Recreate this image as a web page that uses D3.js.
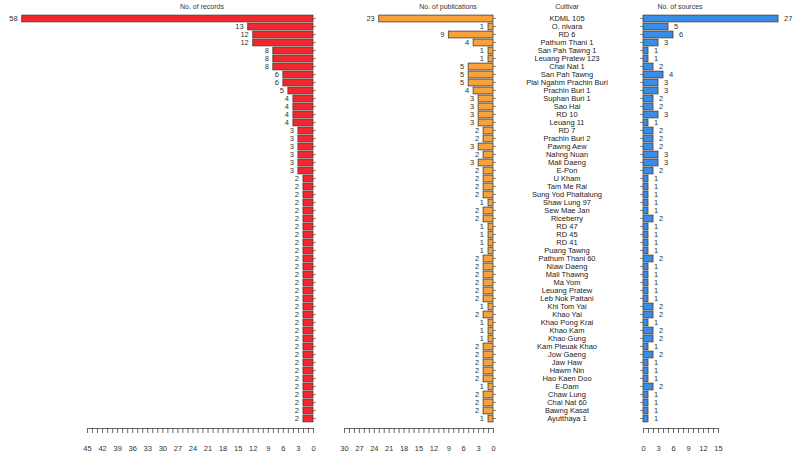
<!DOCTYPE html>
<html><head><meta charset="utf-8">
<script src="https://cdn.jsdelivr.net/npm/d3@7"></script>
<style>body{margin:0;background:#fff}svg{display:block}text{font-family:"Liberation Sans",Arial,sans-serif}</style>
</head><body><svg id="c" width="800" height="459"></svg>
<script>
const cultivars = ["KDML 105","O. nivara","RD 6","Pathum Thani 1","San Pah Tawng 1","Leuang Pratew 123","Chai Nat 1","San Pah Tawng","Plai Ngahm Prachin Buri","Prachin Buri 1","Suphan Buri  1","Sao Hai","RD 10","Leuang 11","RD 7","Prachin Buri 2","Pawng Aew","Nahng Nuan","Mali Daeng","E-Pon","U Kham","Tam Me Rai","Sung Yod Phattalung","Shaw Lung 97","Sew Mae Jan","Riceberry","RD 47","RD 45","RD 41","Puang Tawng","Pathum Thani 60","Niaw Daeng","Mali Thawng","Ma Yom","Leuang Pratew","Leb Nok Pattani","Khi Tom Yai","Khao Yai","Khao Pong Krai","Khao Kam","Khao Gung","Kam Pleuak Khao","Jow Gaeng","Jaw Haw","Hawm Nin","Hao Kaen Doo","E-Dam","Chaw Lung","Chai Nat 60","Bawng Kasat","Ayutthaya 1"];
const records = [58,13,12,12,8,8,8,6,6,5,4,4,4,4,3,3,3,3,3,3,2,2,2,2,2,2,2,2,2,2,2,2,2,2,2,2,2,2,2,2,2,2,2,2,2,2,2,2,2,2,2];
const publications = [23,1,9,4,1,1,5,5,5,4,3,3,3,3,2,2,3,2,3,2,2,2,2,1,2,2,1,1,1,1,2,2,2,2,2,2,1,2,1,1,1,2,2,2,2,2,1,2,2,2,1];
const sources = [27,5,6,3,1,1,2,4,3,3,2,2,3,1,2,2,2,3,3,2,1,1,1,1,1,2,1,1,1,1,2,1,1,1,1,1,2,2,1,2,2,1,2,1,1,1,2,1,1,1,1];
const recordTicks = d3.range(0,46,3);
const pubTicks = d3.range(0,31,3);
const sourceTicks = d3.range(0,16,3);

const svg = d3.select("#c");
const y = d3.scaleBand().domain(cultivars).range([14.5, 422.5]).paddingInner(0.15).paddingOuter(0.075);
const fs = "7.5px";
const axisY = 428;

function panel(vals, x, maxV, tickVals, side, fill, title, titleX) {
  const g = svg.append("g");
  g.selectAll("rect").data(vals).join("rect")
    .attr("x", d => side === "left" ? x(d) : x(0))
    .attr("width", d => Math.abs(x(d) - x(0)))
    .attr("y", (d,i) => y(cultivars[i]))
    .attr("height", y.bandwidth())
    .attr("fill", fill).attr("stroke", "#4a3a30").attr("stroke-width", 0.8);
  g.selectAll("text.v").data(vals).join("text").attr("class","v")
    .attr("x", d => side === "left" ? x(d) - 4 : x(d) + 6)
    .attr("y", (d,i) => y(cultivars[i]) + y.bandwidth()/2)
    .attr("dy", "0.35em")
    .attr("text-anchor", side === "left" ? "end" : "start")
    .attr("font-size", fs).attr("fill", "#333").text(d => d);
  const yAx = side === "left" ? d3.axisRight(y) : d3.axisLeft(y);
  const ya = svg.append("g").attr("transform", `translate(${x(0)},0)`)
    .call(yAx.tickSize(3).tickFormat(""));
  ya.select(".domain").remove();
  ya.selectAll("line").attr("stroke", "#555").attr("stroke-width", 0.7);
  const xa = svg.append("g").attr("transform", `translate(0,${axisY})`)
    .call(d3.axisBottom(x).tickValues(d3.range(0, maxV+1)).tickSize(5).tickSizeOuter(0)
      .tickFormat(d => tickVals.includes(d) ? d : ""));
  xa.select(".domain").attr("stroke", "#444").attr("stroke-width", 0.8);
  xa.selectAll("line").attr("stroke", "#444").attr("stroke-width", 0.8);
  xa.selectAll("text").attr("font-size", fs).attr("fill", "#333").attr("y", 20).attr("dy", "0.35em")
    .attr("font-family", '"Liberation Sans",Arial,sans-serif');
  svg.append("text").attr("x", titleX).attr("y", 9).attr("text-anchor","middle")
    .attr("font-size", "7px").attr("fill", "#333").text(title);
}

const xRec = d3.scaleLinear().domain([0,45]).range([313, 87]);
const xPub = d3.scaleLinear().domain([0,30]).range([493, 344]);
const xSrc = d3.scaleLinear().domain([0,15]).range([643, 718]);

panel(records, xRec, 45, recordTicks, "left", "#f0282d", "No. of records", 202);
panel(publications, xPub, 30, pubTicks, "left", "#f7a13b", "No. of publications", 448);
panel(sources, xSrc, 15, sourceTicks, "right", "#3a8de6", "No. of sources", 680);

svg.append("text").attr("x", 567).attr("y", 9).attr("text-anchor","middle")
  .attr("font-size", "7px").attr("fill", "#333").text("Cultivar");
svg.append("g").selectAll("text").data(cultivars).join("text")
  .attr("x", 567).attr("y", d => y(d) + y.bandwidth()/2).attr("dy", "0.35em")
  .attr("text-anchor", "middle").attr("font-size", fs).attr("fill", "#222").text(d => d);
</script></body></html>
